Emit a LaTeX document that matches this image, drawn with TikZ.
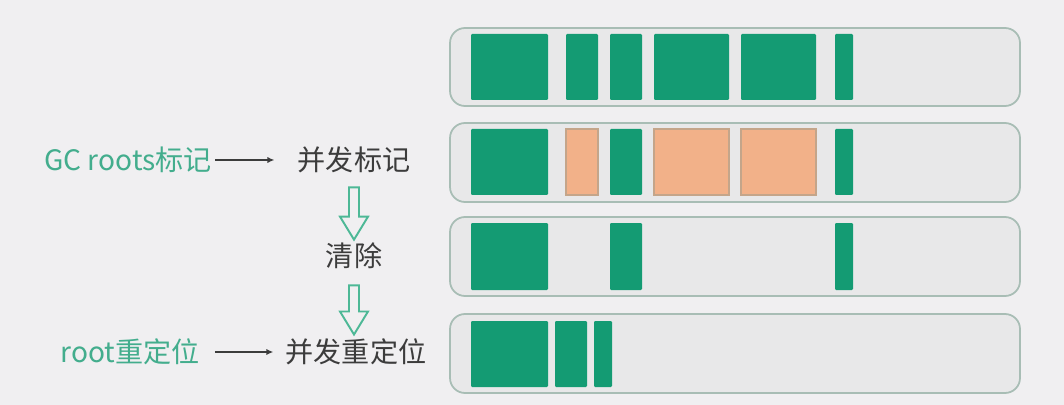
\documentclass[tikz,border=0pt]{standalone}
\usepackage{fontspec}
\setmainfont{Noto Sans CJK SC}
\usetikzlibrary{calc, arrows.meta}
\definecolor{bgpaper}{HTML}{F0EFF1}
\definecolor{heapfill}{HTML}{E8E8E9}
\definecolor{heapline}{HTML}{A8BDB5}
\definecolor{livegreen}{HTML}{149B73}
\definecolor{deadorange}{HTML}{F2B189}
\definecolor{deadline}{HTML}{C4A58A}
\definecolor{labelgreen}{HTML}{43AD8D}
\definecolor{phasegray}{HTML}{3C3C3C}
\definecolor{arrowgreen}{HTML}{4DB896}
\tikzset{
    heap/.style={draw=heapline, fill=heapfill, line width=1pt, rounded corners=0.3cm},
    live/.style={fill=livegreen, rounded corners=0.6pt},
    dead/.style={fill=deadorange, draw=deadline, line width=0.6pt},
    rootlabel/.style={text=labelgreen, inner sep=0pt, font=\fontsize{16}{19}\selectfont},
    phase/.style={text=phasegray, inner sep=0pt, font=\fontsize{16}{19}\selectfont},
    thinarrow/.style={draw=phasegray, line width=0.8pt, -{Latex[length=4pt, width=3.6pt]}},
    hollow/.style={draw=arrowgreen, fill=bgpaper, line width=1.1pt, line join=miter,
        to path={let \p1=(\tikztostart), \p2=(\tikztotarget) in
            (\x1-0.1cm, \y1) -- (\x1+0.1cm, \y1) -- (\x1+0.1cm, \y2+0.46cm)
            -- (\x1+0.28cm, \y2+0.46cm) -- (\x1, \y2) -- (\x1-0.28cm, \y2+0.46cm)
            -- (\x1-0.1cm, \y2+0.46cm) -- cycle}},
}

\begin{document}
\begin{tikzpicture}[x=0.02cm, y=-0.02cm]
    \fill[bgpaper] (0, 0) rectangle (1064, 405);
    % heap snapshots
    \foreach \top/\bot in {28/106, 123/202, 217/296, 314/393}{
        \draw[heap] (450, \top) rectangle (1020, \bot);
    }
    \foreach \xa/\xb in {471/548, 566/598, 610/642, 654/729, 741/816, 835/853}{
        \fill[live] (\xa, 34) rectangle (\xb, 100);
    }
    \foreach \xa/\xb/\kind in {471/548/live, 566/598/dead, 610/642/live,
        654/729/dead, 741/816/dead, 835/853/live}{
        \path[\kind] (\xa, 129) rectangle (\xb, 195);
    }
    \foreach \xa/\xb in {471/548, 610/642, 835/853}{
        \fill[live] (\xa, 223) rectangle (\xb, 290);
    }
    \foreach \xa/\xb in {471/548, 555/587, 594/612}{
        \fill[live] (\xa, 321) rectangle (\xb, 387);
    }
    % phases
    \node[rootlabel] (gcroots) at (128, 160) {GC roots标记};
    \node[phase] (mark) at (354, 160) {并发标记};
    \node[phase] (clean) at (354, 256) {清除};
    \node[phase] (remap) at (356, 352) {并发重定位};
    \node[rootlabel] (rootremap) at (130, 352) {root重定位};
    \draw[thinarrow, shorten <=0.06cm, shorten >=0.46cm] (gcroots) -- (mark);
    \draw[thinarrow, shorten <=0.3cm, shorten >=0.24cm] (rootremap) -- (remap);
    \draw[hollow] ([yshift=-0.28cm]mark.south) to ([yshift=0.06cm]clean.north);
    \draw[hollow] ([yshift=-0.32cm]clean.south) to ([yshift=0.08cm]remap.north);
\end{tikzpicture}
\end{document}
